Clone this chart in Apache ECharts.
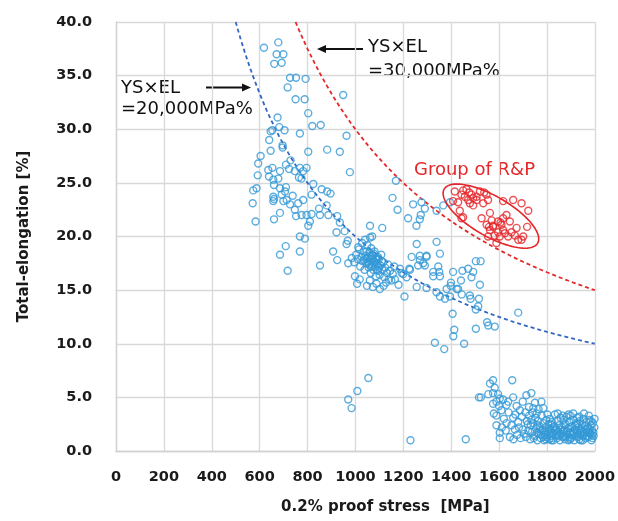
<!DOCTYPE html>
<html><head><meta charset="utf-8">
<script src="https://cdn.jsdelivr.net/npm/echarts@6/dist/echarts.min.js"></script>
<style>html,body{margin:0;padding:0;background:#fff}#c{width:618px;height:521px}</style>
</head><body><div id="c"></div>
<script>
// X tick values / Y tick labels
const xTicks = [0,200,400,600,800,1000,1200,1400,1600,1800,2000];
const yTicks = ['0.0','5.0','10.0','15.0','20.0','25.0','30.0','35.0','40.0'];

// Blue points: high-elongation steels (580-980 MPa)
const blueHigh = [
[618,37.6],[678,38.1],[671,37.0],[699,37.0],[661,36.1],[692,36.2],[727,34.8],[752,34.8],[792,34.7],[717,33.9],[750,32.8],[788,32.8],[803,31.5],[949,33.2],[820,30.3],[855,30.4],[675,31.1],[653,29.9],[646,29.8],[682,30.2],[704,29.9],[768,29.6],[640,29.0],[696,28.5],[963,29.4],
[646,28.0],[696,28.3],[803,27.9],[882,28.1],[935,27.9],[977,26.0],[604,27.5],[594,26.8],[592,25.7],
[636,26.2],[653,26.4],[685,26.1],[639,25.6],[657,25.3],[660,24.8],[678,25.4],[710,26.7],[729,27.1],[723,26.3],[747,26.1],[768,26.4],[796,26.4],[782,26.1],[775,25.4],[764,25.5],
[573,24.3],[587,24.5],[571,23.1],[583,21.4],
[657,23.7],[657,23.3],[660,23.5],[685,24.5],[710,24.6],[706,24.2],[692,23.9],[738,23.8],[699,23.3],[713,23.4],[727,23.0],[761,23.1],[782,23.4],[817,23.9],[824,24.9],[859,24.4],[882,24.2],[896,24.0],[848,22.6],[880,22.9],
[685,22.2],[660,21.6],[747,22.5],[752,21.9],[775,22.0],[796,22.0],[817,22.1],[810,21.4],[803,21.0],[852,22.0],[887,22.0],[924,21.9],[935,21.3],[921,20.4],[907,18.6],[924,17.8],[852,17.3],[963,19.3],[970,17.5],
[768,20.0],[789,19.8],[709,19.1],[768,18.6],[685,18.3],[717,16.8]
];
// Blue points: middle region (950-1700 MPa)
const blueMid = [
[1169,25.2],[1155,23.6],[1176,22.5],[1241,23.0],[1276,23.2],[1290,22.6],[1273,22.0],[1269,21.6],[1255,21.0],[1220,21.7],[1339,22.4],[1367,22.9],[1395,23.2],[1061,21.0],[1112,20.8],[1070,20.0],[1061,19.9],[1339,19.5],[1256,19.3],[1269,18.2],[1297,18.2],[1353,18.4],[955,20.5],[968,19.6],
[985,18.0],[995,17.6],[1003,18.3],[1010,17.9],[1015,18.8],[1020,17.2],[1025,18.1],[1030,17.7],[1034,18.6],[1038,16.9],[1042,18.2],[1046,17.5],[1050,19.2],[1052,18.0],[1055,17.1],[1058,18.5],[1061,17.8],[1064,16.6],[1066,18.9],[1069,17.4],[1072,18.2],[1075,16.9],[1078,17.7],[1080,18.6],[1083,17.2],[1086,16.3],[1089,18.0],[1092,17.5],[1095,16.8],[1098,17.9],[1101,16.4],[1104,17.3],[1108,18.3],[1112,16.9],[1116,17.6],[1120,16.2],[1124,17.1],[1128,15.7],[1132,16.6],[1136,17.4],[1140,16.0],[1145,16.8],[1150,15.9],[1156,16.5],[1162,17.2],[1040,19.7],[1028,19.4],[1012,19.0],[998,16.3],[1007,15.6],[1018,16.0],[1048,15.4],[1060,15.9],[1073,15.3],[1088,15.6],[1102,15.1],[1118,15.4],
[1044,17.9],[1053,17.6],[1063,18.2],[1071,17.9],[1077,18.4],[1085,17.9],[1094,18.1],[1057,17.4],[1067,17.2],[1081,17.6],[1090,16.9],[1099,17.1],[1110,17.7],[1047,18.6],[1036,17.8],
[1186,17.0],[1200,16.5],[1193,16.6],[1214,16.2],[1205,14.4],[1228,16.9],[1180,15.5],[1165,16.0],
[1235,18.1],[1269,17.8],[1283,17.5],[1262,17.3],[1297,18.1],[1290,17.3],[1225,17.0],[1256,15.3],[1297,15.2],[1325,16.3],[1325,16.7],[1346,17.2],[1350,16.7],[1353,16.3],[1408,16.7],[1447,16.8],[1471,17.0],[1492,16.7],[1485,16.2],[1441,15.9],[1399,15.7],[1398,15.4],[1423,15.1],[1381,15.1],[1339,14.8],[1374,14.2],[1353,14.4],[1395,14.4],[1429,15.1],[1444,14.6],[1478,14.5],[1481,14.2],[1516,14.2],[1520,15.5],[1513,13.5],[1503,13.2],[1503,17.7],[1523,17.7],
[1406,12.8],[1413,11.3],[1409,10.7],[1503,11.4],[1550,12.0],[1555,11.7],[1582,11.6],[1680,12.9],[1332,10.1],[1454,10.0],[1371,9.5]
];
// Blue points: low-elongation (martensitic / hot-stamped)
const blueLow = [
[1054,6.8],[1008,5.6],[970,4.8],[984,4.0],[1230,1.0],[1461,1.1],[1516,5.0],
[1575,6.6],[1562,6.3],[1655,6.6],[1582,5.9],[1524,5.0],[1555,5.3],[1575,5.4],[1596,5.3],[1603,4.9],[1589,4.6],[1617,4.8],[1575,4.4],[1600,4.2],[1578,3.5],[1589,3.3],[1610,3.8],[1631,4.3],[1659,5.0],[1638,4.6],[1714,5.2],[1735,5.4],[1699,4.6],[1673,4.2],[1687,3.8],[1750,4.5],[1777,4.6],[1743,4.0],[1785,4.0],[1757,3.5],[1735,2.9],[1589,2.4],[1603,1.7],[1603,1.2],[1645,1.3],[1666,2.0],[1631,2.6],[1659,3.1],
[1620,3.0],[1640,3.6],[1652,2.4],[1680,2.7],[1695,3.2],[1710,3.6],[1720,2.5],[1628,1.9],[1675,1.5],[1690,1.2],[1700,2.0],[1612,2.2],[1668,3.4],[1725,4.1],[1765,3.9],[1705,1.6],[1683,2.2],[1660,1.1],
[1730,1.1],[1738,1.8],[1742,2.6],[1748,1.4],[1752,3.1],[1755,2.1],[1760,1.0],[1763,2.8],[1767,1.6],[1770,2.3],[1774,1.2],[1778,3.3],[1781,1.9],[1785,2.6],[1788,1.0],[1791,1.5],[1794,2.2],[1797,2.9],
[1800,1.3],[1803,1.8],[1806,2.5],[1809,1.1],[1812,3.0],[1815,2.0],[1818,1.4],[1821,2.7],[1824,1.7],[1827,1.0],[1830,2.3],[1833,3.4],[1836,1.5],[1839,2.0],[1842,1.2],[1845,2.8],[1848,1.8],[1851,2.4],[1854,1.0],[1857,3.1],[1860,1.6],[1863,2.2],[1866,1.3],[1869,2.9],[1872,1.9],[1875,1.1],[1878,2.5],[1881,3.2],[1884,1.5],[1887,2.1],[1890,1.0],[1893,2.7],[1896,1.7],[1899,3.3],
[1902,1.2],[1905,2.3],[1908,1.8],[1911,2.9],[1914,1.0],[1917,2.0],[1920,1.4],[1923,2.6],[1926,3.1],[1929,1.7],[1932,2.2],[1935,1.1],[1938,2.8],[1941,1.5],[1944,1.9],[1947,2.5],[1950,1.0],[1953,3.0],[1956,1.6],[1959,2.3],[1962,1.2],[1965,2.7],[1968,1.8],[1971,2.1],[1974,1.3],[1977,2.9],[1980,1.6],[1983,2.4],[1986,1.0],[1989,1.9],[1992,2.6],[1995,1.4],[1998,2.2],[1990,1.2],[1975,3.3],[1935,3.2],[1890,3.4],[1845,3.5],
[1712,1.3],[1722,1.9],[1732,2.4],[1745,1.2],[1758,1.7],[1772,2.0],[1784,1.3],[1796,1.1],[1808,2.1],[1820,1.2],[1834,1.9],[1846,1.4],[1858,2.0],[1870,1.4],[1882,1.8],[1894,1.3],[1906,1.5],[1918,2.4],[1930,1.3],[1942,2.1],[1954,1.8],[1966,1.4],[1978,2.0],[1994,1.7],[1716,2.8],[1726,3.3],[1740,3.6],[1802,3.4],[1866,3.3],[1910,3.5],[1955,3.5],[1999,3.0],
[1776,1.5],[1793,1.8],[1811,1.6],[1826,2.2],[1841,1.6],[1853,1.5],[1868,1.8],[1880,1.3],[1897,2.2],[1913,1.6],[1925,1.9],[1939,1.7],[1951,1.4],[1963,2.0],[1976,1.7],[1987,1.5],[2003,1.3],[2005,2.4],[1761,2.4],[1817,2.5],[1873,2.4],[1928,2.5],[1984,2.8],[1897,1.1],[1819,1.0],[1942,1.0]
];
// Red points: Group of R&P
const redPoints = [
[1415,24.2],[1450,24.3],[1464,24.4],[1475,24.1],[1443,23.9],[1457,23.7],[1485,23.9],[1492,23.6],[1471,23.4],[1478,23.1],[1492,22.9],[1506,23.4],[1520,24.2],[1538,24.1],[1548,23.9],[1554,23.4],[1534,23.1],[1408,23.3],[1429,23.2],[1436,22.4],[1450,21.8],[1443,21.7],[1617,23.3],[1659,23.4],[1694,23.1],[1722,22.4],[1717,20.9],[1631,22.0],[1645,21.4],[1562,22.2],[1569,21.5],[1527,21.7],[1548,21.1],[1562,20.6],[1575,20.9],[1596,21.4],[1610,21.1],[1617,20.6],[1596,20.4],[1582,20.1],[1603,20.0],[1624,20.3],[1638,20.0],[1652,20.4],[1666,20.1],[1680,19.7],[1694,19.7],[1701,20.0],[1673,20.8],[1554,20.0],[1589,19.4],[1558,20.9],[1617,21.7],[1606,21.3],[1506,23.7],[1575,21.0]
];
// Reference curves YS x EL = const
const ysel20 = 20000, ysel30 = 30000;
const curveX = []; for (let x = 500; x <= 2000; x += 10) curveX.push(x);

const blueC = '#3399D6', redC = '#E5262A';
const ptStyle = c => ({color:'rgba(0,0,0,0)', borderColor:c, borderWidth:1.4});
const chart = echarts.init(document.getElementById('c'));
const FONT = 'DejaVu Sans';
chart.setOption({
  animation:false,
  backgroundColor:'#fff',
  grid:{left:116, right:23, top:22, bottom:70},
  xAxis:{type:'value', min:0, max:2000, interval:200,
    axisLine:{show:true, lineStyle:{color:'#D0D0D0', width:1.3}}, axisTick:{show:false},
    splitLine:{show:true, lineStyle:{color:'#D9D9D9', width:1.3}},
    axisLabel:{margin:19, color:'#1a1a1a', fontWeight:'bold', fontSize:14.5, fontFamily:FONT,
      formatter:v=> xTicks.includes(v) ? String(v) : ''},
    name:'0.2% proof stress  [MPa]', nameLocation:'middle', nameGap:49,
    nameTextStyle:{color:'#1a1a1a', fontWeight:'bold', fontSize:15, fontFamily:FONT, padding:[0,0,0,60]}},
  yAxis:{type:'value', min:0, max:40, interval:5,
    axisLine:{show:true, lineStyle:{color:'#D0D0D0', width:1.3}}, axisTick:{show:false},
    splitLine:{show:true, lineStyle:{color:'#D9D9D9', width:1.3}},
    axisLabel:{margin:24, color:'#1a1a1a', fontWeight:'bold', fontSize:14.5, fontFamily:FONT,
      formatter:v=> yTicks[Math.round(v/5)]},
    name:'Total-elongation [%]', nameLocation:'middle', nameGap:84, nameRotate:90,
    nameTextStyle:{color:'#1a1a1a', fontWeight:'bold', fontSize:15, fontFamily:FONT}},
  series:[
    {type:'line', data:curveX.filter(x=>ysel20/x<=40).map(x=>[x, ysel20/x]), showSymbol:false, silent:true,
      lineStyle:{color:'#3366C2', width:1.8, type:[4,3]}, z:3},
    {type:'line', data:curveX.filter(x=>ysel30/x<=40).map(x=>[x, ysel30/x]), showSymbol:false, silent:true,
      lineStyle:{color:redC, width:1.8, type:[4,3]}, z:3},
    {type:'scatter', data:blueHigh, symbol:'circle', symbolSize:7, itemStyle:ptStyle(blueC), z:4},
    {type:'scatter', data:blueMid, symbol:'circle', symbolSize:7, itemStyle:ptStyle(blueC), z:4},
    {type:'scatter', data:blueLow, symbol:'circle', symbolSize:7, itemStyle:ptStyle(blueC), z:4},
    {type:'scatter', data:redPoints, symbol:'circle', symbolSize:7, itemStyle:ptStyle(redC), z:5},
    {type:'custom', data:[[1566,21.9]], z:6, silent:true,
      renderItem:(params, api)=>{
        const c = api.coord([api.value(0), api.value(1)]);
        const a = 54, b = 20, th = 30*Math.PI/180;
        const pts = [];
        for (let i=0;i<=90;i++){ const t=i/90*2*Math.PI; const ex=a*Math.cos(t), ey=b*Math.sin(t);
          pts.push([c[0]+ex*Math.cos(th)-ey*Math.sin(th), c[1]+ex*Math.sin(th)+ey*Math.cos(th)]); }
        return {type:'polyline', shape:{points:pts}, style:{fill:null, stroke:redC, lineWidth:1.6}};
      }}
  ],
  graphic:[
    {type:'text', left:121, top:78, style:{text:'YS×EL\n=20,000MPa%', fontSize:18, fontFamily:FONT, lineHeight:21, fill:'#111'}},
    {type:'line', shape:{x1:206, y1:87.5, x2:243, y2:87.5}, style:{stroke:'#111', lineWidth:2}},
    {type:'polygon', shape:{points:[[251,87.5],[242,83.5],[242,91.5]]}, style:{fill:'#111'}},
    {type:'text', left:368, top:36, style:{text:'YS×EL\n=30,000MPa%', fontSize:18, fontFamily:FONT, lineHeight:23.5, fill:'#111'}},
    {type:'line', shape:{x1:363, y1:49, x2:325, y2:49}, style:{stroke:'#111', lineWidth:2}},
    {type:'polygon', shape:{points:[[317,49],[326,45],[326,53]]}, style:{fill:'#111'}},
    {type:'text', left:414, top:161, style:{text:'Group of R&P', fontSize:18, fontFamily:FONT, fill:redC}}
  ]
});
</script></body></html>
